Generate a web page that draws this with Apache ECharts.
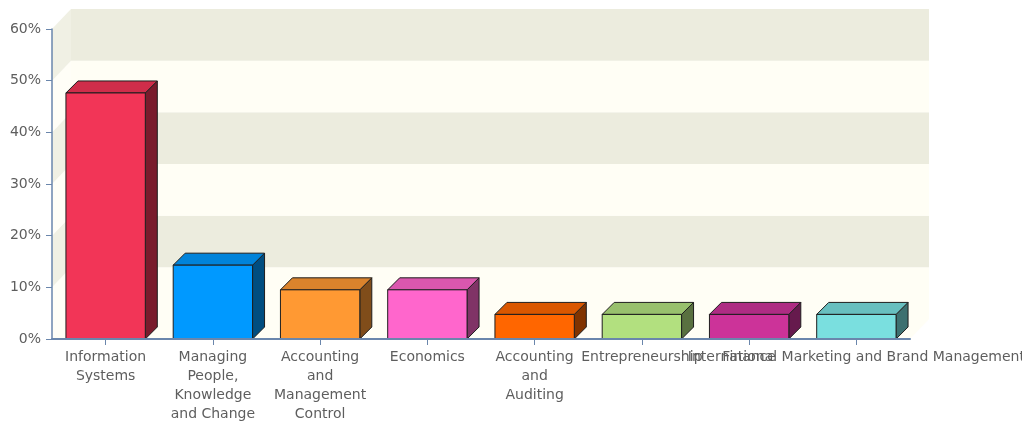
<!DOCTYPE html>
<html>
<head>
<meta charset="utf-8">
<script src="https://cdn.jsdelivr.net/npm/echarts@6/dist/echarts.min.js"></script>
<style>
  html, body { margin: 0; padding: 0; background: #ffffff; }
  #chart { width: 1022px; height: 428px; }
</style>
</head>
<body>
<div id="chart"></div>
<script>
// Share of students per specialisation (%)
const categories = [
  'Information Systems',
  'Managing People, Knowledge and Change',
  'Accounting and Management Control',
  'Economics',
  'Accounting and Auditing',
  'Entrepreneurship',
  'Finance',
  'International Marketing and Brand Management'
];
const categoryLabels = [
  'Information\nSystems',
  'Managing\nPeople,\nKnowledge\nand Change',
  'Accounting\nand\nManagement\nControl',
  'Economics',
  'Accounting\nand\nAuditing',
  'Entrepreneurship',
  'Finance',
  'International Marketing and Brand Management'
];
const shares = [47.62, 14.29, 9.52, 9.52, 4.76, 4.76, 4.76, 4.76];
const barColors = ['#F23557', '#0099FF', '#FF9933', '#FF66CC', '#FF6600', '#B2E07F', '#CC3399', '#7ADFDF'];
const yMin = 0, yMax = 60, yStep = 10;

// Background bands (lower, upper) in axis units
const bands = [];
for (let v = yMin; v < yMax; v += yStep) bands.push([0, v, v + yStep]);

const FONT = '"DejaVu Sans", Verdana, sans-serif';
const AXIS_COLOR = '#6A86AC';
const LABEL_COLOR = '#5E5E5E';
const BAND_LIGHT = '#FFFEF5', BAND_DARK = '#ECECDE';
const SIDE_LIGHT = '#FFFEF7', SIDE_DARK = '#F0F0E4';
const WALL_DX = 19, WALL_DY = 20;   // depth of the back wall
const BAR_D = 12;                   // depth of the 3D bars
const BAR_RATIO = 0.74;

function shade(hex, f) {
  const n = parseInt(hex.slice(1), 16);
  const r = Math.round(((n >> 16) & 255) * f);
  const g = Math.round(((n >> 8) & 255) * f);
  const b = Math.round((n & 255) * f);
  return 'rgb(' + r + ',' + g + ',' + b + ')';
}

function renderWall(params, api) {
  const cs = params.coordSys;
  const lo = api.value(1), hi = api.value(2);
  const yLo = api.coord([0, lo])[1];
  const yHi = api.coord([0, hi])[1];
  const left = cs.x, right = cs.x + cs.width;
  const even = params.dataIndex % 2 === 0;
  const children = [];
  if (lo === yMin) {
    children.push({
      type: 'polygon',
      shape: { points: [[left, yLo], [right, yLo], [right + WALL_DX, yLo - WALL_DY], [left + WALL_DX, yLo - WALL_DY]] },
      style: { fill: BAND_LIGHT }
    });
  }
  children.push({
    type: 'rect',
    shape: { x: left + WALL_DX, y: yHi - WALL_DY, width: right - left, height: yLo - yHi },
    style: { fill: even ? BAND_LIGHT : BAND_DARK }
  });
  children.push({
    type: 'polygon',
    shape: { points: [[left, yLo], [left, yHi], [left + WALL_DX, yHi - WALL_DY], [left + WALL_DX, yLo - WALL_DY]] },
    style: { fill: even ? SIDE_LIGHT : SIDE_DARK }
  });
  return { type: 'group', children: children };
}

function renderBar(params, api) {
  const i = api.value(0);
  const v = api.value(1);
  const base = api.coord([i, 0]);
  const top = api.coord([i, v]);
  const bw = api.size([1, 0])[0] * BAR_RATIO;
  const x0 = top[0] - bw / 2, x1 = top[0] + bw / 2;
  const ty = top[1], by = base[1];
  const color = barColors[params.dataIndex % barColors.length];
  const edge = { stroke: '#1E1E1E', lineWidth: 1 };
  return {
    type: 'group',
    children: [
      {
        type: 'polygon',
        shape: { points: [[x1, ty], [x1 + BAR_D, ty - BAR_D], [x1 + BAR_D, by - BAR_D], [x1, by]] },
        style: Object.assign({ fill: shade(color, 0.5) }, edge)
      },
      {
        type: 'polygon',
        shape: { points: [[x0, ty], [x0 + BAR_D, ty - BAR_D], [x1 + BAR_D, ty - BAR_D], [x1, ty]] },
        style: Object.assign({ fill: shade(color, 0.855) }, edge)
      },
      {
        type: 'rect',
        shape: { x: x0, y: ty, width: bw, height: by - ty },
        style: Object.assign({ fill: color }, edge)
      }
    ]
  };
}

const chart = echarts.init(document.getElementById('chart'), null, { renderer: 'canvas' });
chart.setOption({
  animation: false,
  backgroundColor: '#ffffff',
  grid: { left: 52, right: 112, top: 29, bottom: 89, containLabel: false, outerBoundsMode: 'none' },
  xAxis: {
    type: 'category',
    data: categories,
    z: 10,
    axisLine: { show: true, lineStyle: { color: AXIS_COLOR, width: 2 } },
    axisTick: { show: true, alignWithLabel: true, length: 6, lineStyle: { color: AXIS_COLOR, width: 1 } },
    axisLabel: {
      interval: 0,
      hideOverlap: false,
      margin: 9,
      color: LABEL_COLOR,
      fontFamily: FONT,
      fontSize: 14,
      lineHeight: 19,
      align: 'center',
      formatter: function (value, index) { return categoryLabels[index]; }
    },
    splitLine: { show: false }
  },
  yAxis: {
    type: 'value',
    min: yMin,
    max: yMax,
    interval: yStep,
    z: 10,
    axisLine: { show: true, lineStyle: { color: AXIS_COLOR, width: 1.5 } },
    axisTick: { show: true, length: 6, lineStyle: { color: AXIS_COLOR, width: 1 } },
    axisLabel: { formatter: '{value}%', color: LABEL_COLOR, fontFamily: FONT, fontSize: 14, margin: 11 },
    splitLine: { show: false }
  },
  series: [
    {
      type: 'custom',
      name: 'wall',
      z: 1,
      silent: true,
      renderItem: renderWall,
      encode: { x: 0, y: [1, 2] },
      data: bands
    },
    {
      type: 'custom',
      name: 'share',
      z: 3,
      renderItem: renderBar,
      encode: { x: 0, y: 1 },
      data: shares.map(function (v, i) { return [i, v]; })
    }
  ]
});
</script>
</body>
</html>
